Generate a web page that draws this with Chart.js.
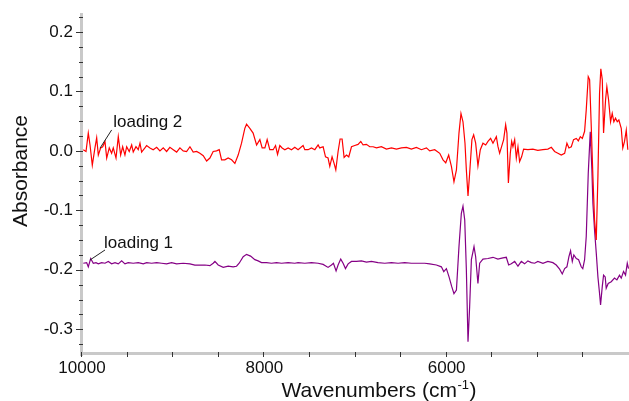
<!DOCTYPE html>
<html><head><meta charset="utf-8">
<script src="https://cdn.jsdelivr.net/npm/chart.js@4/dist/chart.umd.min.js"></script>
<style>html,body{margin:0;padding:0;background:#fff}#wrap{width:629px;height:401px;position:relative}canvas{display:block}</style>
</head><body><div id="wrap"><canvas id="c" width="629" height="401"></canvas></div>
<script>
// ---- data ----
const wnLoading2 = [9986,9956,9931,9912,9887,9858,9839,9821,9795,9773,
9748,9729,9701,9675,9657,9627,9602,9576,9554,9529,
9510,9482,9455,9438,9408,9383,9364,9346,9310,9291,
9255,9219,9181,9145,9109,9072,9036,8999,8962,8926,
8890,8853,8816,8780,8743,8707,8670,8633,8597,8561,
8524,8495,8469,8433,8397,8359,8323,8287,8250,8214,
8195,8159,8123,8085,8049,8024,7994,7969,7940,7903,
7877,7855,7830,7805,7775,7739,7702,7666,7630,7575,
7556,7520,7483,7446,7410,7392,7355,7329,7301,7282,
7257,7235,7216,7191,7169,7147,7125,7099,7074,7044,
7008,6972,6942,6917,6880,6844,6807,6770,6716,6661,
6606,6551,6496,6441,6387,6332,6277,6222,6186,6131,
6076,6040,6010,5978,5948,5920,5893,5865,5843,5821,
5799,5784,5766,5748,5723,5704,5682,5657,5631,5602,
5572,5547,5518,5492,5455,5438,5419,5400,5375,5353,
5339,5323,5302,5287,5273,5254,5236,5218,5200,5178,
5156,5109,5054,5000,4944,4890,4852,4816,4780,4743,
4706,4681,4659,4633,4608,4578,4556,4534,4512,4487,
4469,4447,4432,4414,4396,4378,4359,4341,4323,4309,
4293,4279,4257,4243,4224,4202,4184,4166,4148,4129,
4111,4085,4068,4049,4030,4013];
const absLoading2 = [0.002,-0.001,0.030,0.010,-0.024,0.005,0.022,-0.007,0.005,0.007,
0.016,-0.012,0.005,-0.004,0.005,-0.012,0.024,-0.007,0.007,-0.007,
0.007,-0.001,0.010,-0.002,0.007,0.002,0.013,-0.002,0.005,0.009,
0.005,0.002,0.006,0.000,0.005,-0.001,0.006,0.002,-0.002,0.005,
0.000,-0.001,0.007,-0.002,-0.001,-0.004,-0.008,-0.017,-0.012,-0.001,
0.000,0.002,-0.015,-0.015,-0.012,-0.015,-0.021,-0.007,0.013,0.038,
0.045,0.038,0.030,0.010,0.019,0.005,0.005,0.019,0.002,0.002,
0.009,-0.006,0.009,0.005,0.002,0.005,0.002,0.006,0.002,0.009,
0.002,0.002,0.005,0.002,0.010,0.005,0.007,-0.010,-0.012,-0.026,
-0.010,-0.021,-0.032,-0.001,0.020,0.020,-0.011,-0.007,-0.010,0.007,
0.009,0.011,0.016,0.010,0.011,0.007,0.007,0.005,0.007,0.003,
0.005,0.003,0.005,0.006,0.003,0.006,0.002,0.005,0.000,0.002,
-0.004,-0.015,-0.020,-0.007,-0.026,-0.052,-0.032,0.030,0.063,0.049,
0.013,-0.032,-0.076,-0.038,0.019,0.027,0.013,-0.025,0.002,0.013,
0.010,0.016,0.021,0.013,0.024,0.008,-0.004,0.006,0.019,0.044,
0.030,-0.054,-0.004,0.016,0.007,0.019,-0.012,0.007,-0.018,-0.010,
0.003,0.002,0.003,0.001,0.002,0.003,0.006,-0.001,-0.004,-0.007,
-0.004,0.013,0.005,0.007,0.019,0.021,0.017,0.024,0.021,0.033,
0.069,0.125,0.120,0.041,-0.043,-0.116,-0.150,-0.043,0.097,0.138,
0.120,0.030,0.086,0.108,0.086,0.049,0.063,0.049,0.055,0.049,
0.052,0.038,0.005,0.016,0.035,0.002];

const wnLoading1 = [9986,9949,9931,9905,9876,9847,9821,9784,9748,9712,
9675,9638,9602,9565,9529,9493,9438,9383,9328,9291,
9236,9181,9127,9072,9017,8962,8890,8816,8762,8707,
8652,8597,8561,8542,8506,8451,8397,8342,8305,8276,
8232,8195,8151,8104,8068,8031,7976,7921,7866,7811,
7739,7666,7630,7556,7483,7410,7355,7301,7264,7242,
7213,7191,7162,7136,7110,7081,7044,6989,6935,6880,
6825,6753,6679,6606,6533,6460,6387,6314,6241,6186,
6113,6058,6032,6003,5974,5945,5920,5893,5865,5839,
5821,5802,5784,5766,5748,5729,5700,5682,5657,5638,
5602,5547,5492,5438,5383,5346,5320,5291,5254,5218,
5181,5145,5109,5072,5035,5000,4944,4890,4835,4798,
4761,4732,4706,4681,4659,4641,4622,4605,4578,4553,
4524,4507,4487,4469,4447,4425,4407,4396,4378,4359,
4341,4323,4312,4293,4279,4261,4250,4228,4195,4159,
4133,4104,4085,4060,4038,4019,4005];
const absLoading1 = [-0.189,-0.188,-0.195,-0.181,-0.189,-0.188,-0.190,-0.188,-0.189,-0.186,
-0.190,-0.188,-0.190,-0.185,-0.190,-0.188,-0.189,-0.188,-0.190,-0.188,
-0.189,-0.188,-0.189,-0.190,-0.188,-0.190,-0.189,-0.190,-0.192,-0.192,
-0.192,-0.193,-0.189,-0.186,-0.192,-0.196,-0.194,-0.195,-0.194,-0.189,
-0.178,-0.174,-0.177,-0.183,-0.185,-0.188,-0.188,-0.189,-0.188,-0.189,
-0.188,-0.189,-0.188,-0.189,-0.188,-0.189,-0.191,-0.196,-0.192,-0.189,
-0.202,-0.192,-0.182,-0.189,-0.198,-0.190,-0.186,-0.186,-0.185,-0.187,
-0.186,-0.188,-0.189,-0.188,-0.189,-0.188,-0.189,-0.189,-0.189,-0.190,
-0.192,-0.195,-0.203,-0.198,-0.212,-0.228,-0.240,-0.234,-0.161,-0.105,
-0.093,-0.116,-0.200,-0.321,-0.262,-0.183,-0.161,-0.178,-0.223,-0.189,
-0.182,-0.181,-0.179,-0.182,-0.180,-0.179,-0.192,-0.190,-0.186,-0.194,
-0.186,-0.190,-0.185,-0.188,-0.189,-0.186,-0.189,-0.186,-0.188,-0.192,
-0.199,-0.207,-0.198,-0.195,-0.178,-0.168,-0.186,-0.175,-0.181,-0.183,
-0.195,-0.198,-0.183,-0.144,-0.038,0.032,-0.032,-0.088,-0.133,-0.172,
-0.212,-0.240,-0.259,-0.228,-0.209,-0.212,-0.231,-0.223,-0.220,-0.214,
-0.217,-0.209,-0.214,-0.203,-0.209,-0.189,-0.198];

const xMajorTicks = [10000, 8000, 6000];
const xTickLabels = ['10000', '8000', '6000'];
const xMinorTicks = [10000,9500,9000,8500,8000,7500,7000,6500,6000,5500,5000,4500];
const yMajorTicks = [0.2, 0.1, 0.0, -0.1, -0.2, -0.3];
const yTickLabels = ['0.2', '0.1', '0.0', '-0.1', '-0.2', '-0.3'];
const yMinorTicks = [0.225,0.2,0.175,0.15,0.125,0.1,0.075,0.05,0.025,0,-0.025,-0.05,-0.075,-0.1,-0.125,-0.15,-0.175,-0.2,-0.225,-0.25,-0.275,-0.3,-0.325];
const seriesNames = ['loading 2', 'loading 1'];
const xTitle = 'Wavenumbers (cm';
const xTitleSup = '-1';
const yTitle = 'Absorbance';

// ---- build ----
const FONT = '"Liberation Sans", Arial, Helvetica, sans-serif';
const toPts = (xs, ys) => xs.map((x, i) => ({x: x, y: ys[i]}));
const near = (a, b) => Math.abs(a - b) < 1e-6;

// annotation anchors on the curves, with pixel offsets for leader line and text
const annotations = [
  {text: seriesNames[0], wn: 9803, ab: 0.0045, lx: 11.7, ly: -18.3, tx: 13.3, ty: -25.6},
  {text: seriesNames[1], wn: 9912, ab: -0.1835, lx: 15, ly: -10, tx: 14, ty: -16.7}
];

const decor = {
  id: 'decor',
  beforeDatasetsDraw(chart) {
    const {ctx, chartArea: a, scales} = chart;
    ctx.save();
    ctx.fillStyle = '#c9c9c9';
    ctx.fillRect(a.left - 2, a.top, 3, a.bottom - a.top + 3);
    ctx.fillRect(a.left - 2, a.bottom - 1, a.right - a.left + 2, 3);
    ctx.strokeStyle = '#333';
    ctx.lineWidth = 1;
    ctx.beginPath();
    yMinorTicks.forEach(v => {
      const y = Math.round(scales.y.getPixelForValue(v)) + 0.5;
      const major = yMajorTicks.some(m => near(m, v));
      ctx.moveTo(a.left - (major ? 6 : 3), y);
      ctx.lineTo(a.left + 1, y);
    });
    xMinorTicks.forEach(v => {
      const x = Math.round(scales.x.getPixelForValue(v)) - 0.5;
      ctx.moveTo(x, a.bottom - 1);
      ctx.lineTo(x, a.bottom + 4);
    });
    ctx.stroke();
    ctx.restore();
  },
  afterDraw(chart) {
    const {ctx, scales} = chart;
    ctx.save();
    ctx.fillStyle = '#111';
    ctx.font = '21px ' + FONT;
    ctx.textAlign = 'center';
    ctx.textBaseline = 'middle';
    ctx.save();
    ctx.translate(21, 171);
    ctx.rotate(-Math.PI / 2);
    ctx.fillText(yTitle, 0, 0);
    ctx.restore();
    ctx.textAlign = 'left';
    ctx.textBaseline = 'alphabetic';
    ctx.font = '21px ' + FONT;
    const w1 = ctx.measureText(xTitle).width;
    const w3 = ctx.measureText(')').width;
    ctx.font = '13px ' + FONT;
    const w2 = ctx.measureText(xTitleSup).width;
    const x0 = 378.5 - (w1 + w2 + w3) / 2;
    const base = 397;
    ctx.font = '21px ' + FONT;
    ctx.fillText(xTitle, x0, base);
    ctx.font = '13px ' + FONT;
    ctx.fillText(xTitleSup, x0 + w1 + 0.5, base - 8);
    ctx.font = '21px ' + FONT;
    ctx.fillText(')', x0 + w1 + w2 + 1, base);
    ctx.font = '17px ' + FONT;
    ctx.textBaseline = 'middle';
    ctx.strokeStyle = '#222';
    ctx.lineWidth = 1;
    annotations.forEach(an => {
      const px = scales.x.getPixelForValue(an.wn);
      const py = scales.y.getPixelForValue(an.ab);
      ctx.beginPath();
      ctx.moveTo(px, py);
      ctx.lineTo(px + an.lx, py + an.ly);
      ctx.stroke();
      ctx.fillText(an.text, px + an.tx, py + an.ty);
    });
    ctx.restore();
  }
};

new Chart(document.getElementById('c'), {
  type: 'line',
  data: {
    datasets: [
      {label: seriesNames[0], data: toPts(wnLoading2, absLoading2), borderColor: '#ff0000', borderWidth: 1.2, pointRadius: 0, tension: 0, fill: false},
      {label: seriesNames[1], data: toPts(wnLoading1, absLoading1), borderColor: '#850085', borderWidth: 1.2, pointRadius: 0, tension: 0, fill: false}
    ]
  },
  options: {
    responsive: false,
    animation: false,
    devicePixelRatio: 1,
    layout: {padding: {top: 13, right: 0, left: 0, bottom: 0}},
    plugins: {legend: {display: false}, tooltip: {enabled: false}, title: {display: false}},
    events: [],
    scales: {
      x: {
        type: 'linear', reverse: true, min: 4000, max: 10000,
        grid: {display: false, drawTicks: false}, border: {display: false},
        afterBuildTicks: s => { s.ticks = xMinorTicks.map(v => ({value: v})); },
        afterFit: s => { s.height = 48; s.paddingLeft = 0; s.paddingRight = 0; },
        ticks: {
          autoSkip: false, maxRotation: 0, padding: 5, color: '#111',
          font: {family: FONT, size: 17},
          callback: v => { const i = xMajorTicks.findIndex(m => near(m, v)); return i >= 0 ? xTickLabels[i] : ''; }
        }
      },
      y: {
        type: 'linear', min: -0.34, max: 0.232,
        grid: {display: false, drawTicks: false}, border: {display: false},
        afterBuildTicks: s => { s.ticks = yMinorTicks.map(v => ({value: v})); },
        afterFit: s => { s.width = 82; s.paddingTop = 0; s.paddingBottom = 0; },
        ticks: {
          autoSkip: false, padding: 9, color: '#111',
          font: {family: FONT, size: 17},
          callback: v => { const i = yMajorTicks.findIndex(m => near(m, v)); return i >= 0 ? yTickLabels[i] : ''; }
        }
      }
    }
  },
  plugins: [decor]
});
</script></body></html>
